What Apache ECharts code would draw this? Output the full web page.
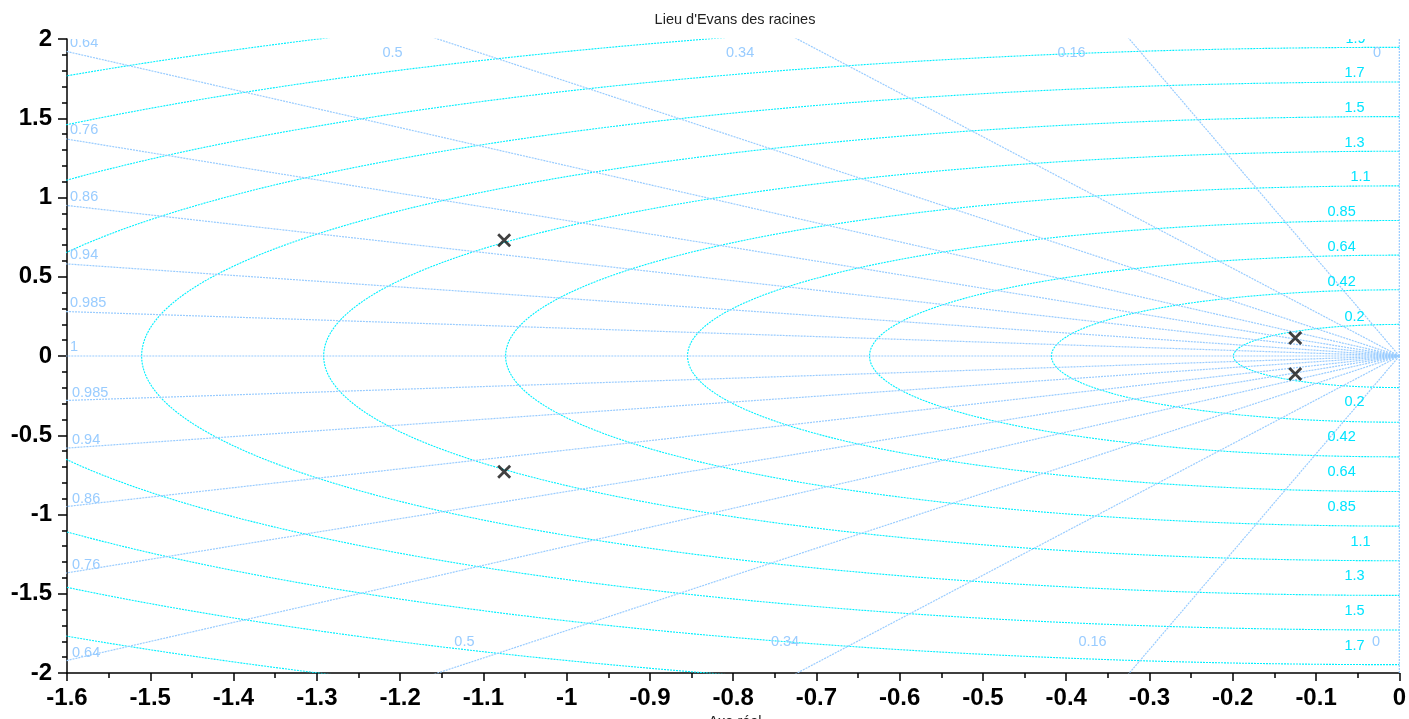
<!DOCTYPE html>
<html><head><meta charset="utf-8">
<script src="https://cdn.jsdelivr.net/npm/echarts@6/dist/echarts.min.js"></script>
<style>html,body{margin:0;padding:0;background:#fff;overflow:hidden}#c{width:1409px;height:719px}</style>
</head><body><div id="c"></div>
<script>
// ---------- data ----------
const xTickLabels = ['-1.6','-1.5','-1.4','-1.3','-1.2','-1.1','-1','-0.9','-0.8','-0.7','-0.6','-0.5','-0.4','-0.3','-0.2','-0.1','0'];
const yTickLabels = ['-2','-1.5','-1','-0.5','0','0.5','1','1.5','2'];
const zetaValues = [0, 0.16, 0.34, 0.5, 0.64, 0.76, 0.86, 0.94, 0.985, 1];
const zetaLabels = ['0','0.16','0.34','0.5','0.64','0.76','0.86','0.94','0.985','1'];
const wnValues = [0.1993, 0.4178, 0.6363, 0.8548, 1.0733, 1.2918, 1.5104, 1.7289, 1.9474, 2.1659, 2.3844];
const wnLabels = ['0.2','0.42','0.64','0.85','1.1','1.3','1.5','1.7','1.9','2.2','2.4'];
const poleRe = [-1.075, -1.075, -0.125, -0.125];
const poleIm = [0.73, -0.73, 0.114, -0.114];

// ---------- layout / style ----------
const X_MIN = -1.6, X_MAX = 0, Y_MIN = -2, Y_MAX = 2;
const GRID = {left: 67, right: 7, top: 39, bottom: 46};
const W = 1409, H = 719;
const PX_PER_X = (W - GRID.left - GRID.right) / (X_MAX - X_MIN);
const FONT = '"Liberation Sans", Arial, Helvetica, sans-serif';
const ZETA_COLOR = '#99ccff';
const WN_COLOR = '#00f0ff';
const ZETA_TEXT = '#99ccff';
const WN_TEXT = '#00e4ff';
const LABEL_FS = 14.5;
// left offset (px from right edge) of the wn labels
const wnLabelDx = [55, 72, 72, 72, 49, 55, 55, 55, 54, 55, 55];
// x (data) of zeta labels at the top / bottom borders, for zeta 0.5, 0.34, 0.16, 0
const topEdgeZeta = [0.5, 0.34, 0.16, 0];
const topEdgeX = [-1.2211, -0.8086, -0.4106, -0.0317];
const bottomEdgeX = [-1.1348, -0.7547, -0.3854, -0.0329];

const R = 4; // ray length, beyond the plot
const series = [];
const dotted = [2, 1];

// wn circles (left half plane)
wnValues.forEach(r => {
  const pts = [];
  for (let d = 90; d <= 270; d += 1) {
    const t = d * Math.PI / 180;
    pts.push([r * Math.cos(t), r * Math.sin(t)]);
  }
  series.push({type: 'line', data: pts, symbol: 'none', silent: true, clip: true,
    lineStyle: {color: WN_COLOR, width: 1.1, type: dotted}, z: 2});
});

// zeta rays
zetaValues.forEach(z => {
  const s = Math.sqrt(1 - z * z);
  const signs = z === 1 ? [1] : [1, -1];
  signs.forEach(sg => {
    series.push({type: 'line', data: [[0, 0], [-z * R, sg * s * R]], symbol: 'none', silent: true, clip: true,
      lineStyle: {color: ZETA_COLOR, width: 1.2, type: dotted}, z: 2});
  });
});

// labels
const labelItems = [];
zetaValues.forEach((z, i) => {
  if (z >= 0.64) {
    const yy = Math.sqrt(1 - z * z) / z * (-X_MIN);
    labelItems.push({x: X_MIN, y: yy, dx: 3, dy: -9, text: zetaLabels[i], color: ZETA_TEXT});
    if (z < 1) labelItems.push({x: X_MIN, y: -yy, dx: 5, dy: -7.8, text: zetaLabels[i], color: ZETA_TEXT});
  }
});
topEdgeZeta.forEach((z, k) => {
  const i = zetaValues.indexOf(z);
  labelItems.push({x: topEdgeX[k], y: Y_MAX, dx: 0, dy: 14, text: zetaLabels[i], color: ZETA_TEXT});
  labelItems.push({x: bottomEdgeX[k], y: Y_MIN, dx: 0, dy: -31, text: zetaLabels[i], color: ZETA_TEXT});
});
wnValues.forEach((r, i) => {
  const xx = -wnLabelDx[i] / PX_PER_X;
  const yy = Math.sqrt(Math.max(r * r - xx * xx, 0));
  labelItems.push({x: xx, y: yy, dx: 0, dy: -9, text: wnLabels[i], color: WN_TEXT});
  labelItems.push({x: xx, y: -yy, dx: 0, dy: 16, text: wnLabels[i], color: WN_TEXT});
});

series.push({
  type: 'custom', clip: true, silent: true, z: 4,
  data: labelItems.map((l, i) => [l.x, l.y, i]),
  renderItem: (params, api) => {
    const l = labelItems[api.value(2)];
    const p = api.coord([api.value(0), api.value(1)]);
    return {type: 'text', x: p[0] + l.dx, y: p[1] + l.dy,
      style: {text: l.text, fill: l.color, font: LABEL_FS + 'px ' + FONT,
        textAlign: 'left', textVerticalAlign: 'middle', align: 'left', verticalAlign: 'middle'}};
  }
});

// poles
series.push({
  type: 'scatter', silent: true, z: 6,
  data: poleRe.map((re, i) => [re, poleIm[i]]),
  symbol: 'path://M0,0L10,10M10,0L0,10', symbolSize: 12,
  itemStyle: {color: 'rgba(0,0,0,0)', borderColor: '#111', borderWidth: 2.8}
});

const axisCommon = {
  type: 'value',
  splitLine: {show: false},
  axisLine: {show: true, onZero: false, lineStyle: {color: '#000', width: 1.5}},
  axisLabel: {show: true, fontSize: 24, fontWeight: 'bold', color: '#000', fontFamily: FONT, showMinLabel: true, showMaxLabel: true}
};

const option = {
  animation: false,
  backgroundColor: '#fff',
  grid: {left: GRID.left, right: GRID.right, top: GRID.top, bottom: GRID.bottom, containLabel: false},
  xAxis: Object.assign({}, axisCommon, {
    min: X_MIN, max: X_MAX, interval: 0.1,
    axisTick: {show: true, length: 8, lineStyle: {color: '#000', width: 1.5}},
    minorTick: {show: true, splitNumber: 2, length: 5, lineStyle: {color: '#000', width: 1.5}},
    axisLabel: Object.assign({}, axisCommon.axisLabel, {margin: 13,
      formatter: v => xTickLabels[Math.round((v - X_MIN) / 0.1)]})
  }),
  yAxis: Object.assign({}, axisCommon, {
    min: Y_MIN, max: Y_MAX, interval: 0.5,
    axisTick: {show: true, length: 9, lineStyle: {color: '#000', width: 1.5}},
    minorTick: {show: true, splitNumber: 5, length: 5, lineStyle: {color: '#000', width: 1.5}},
    axisLabel: Object.assign({}, axisCommon.axisLabel, {margin: 15,
      formatter: v => yTickLabels[Math.round((v - Y_MIN) / 0.5)]})
  }),
  graphic: [
    {type: 'text', style: {x: 735, y: 20, text: "Lieu d'Evans des racines", fill: '#222', font: '14.5px ' + FONT,
      textAlign: 'center', textVerticalAlign: 'middle', align: 'center', verticalAlign: 'middle'}},
    {type: 'text', style: {x: 735, y: 722, text: 'Axe réel', fill: '#222', font: '14.5px ' + FONT,
      textAlign: 'center', textVerticalAlign: 'middle', align: 'center', verticalAlign: 'middle'}}
  ],
  series: series
};

const chart = echarts.init(document.getElementById('c'), null, {renderer: 'canvas', width: W, height: H});
chart.setOption(option);
</script></body></html>
